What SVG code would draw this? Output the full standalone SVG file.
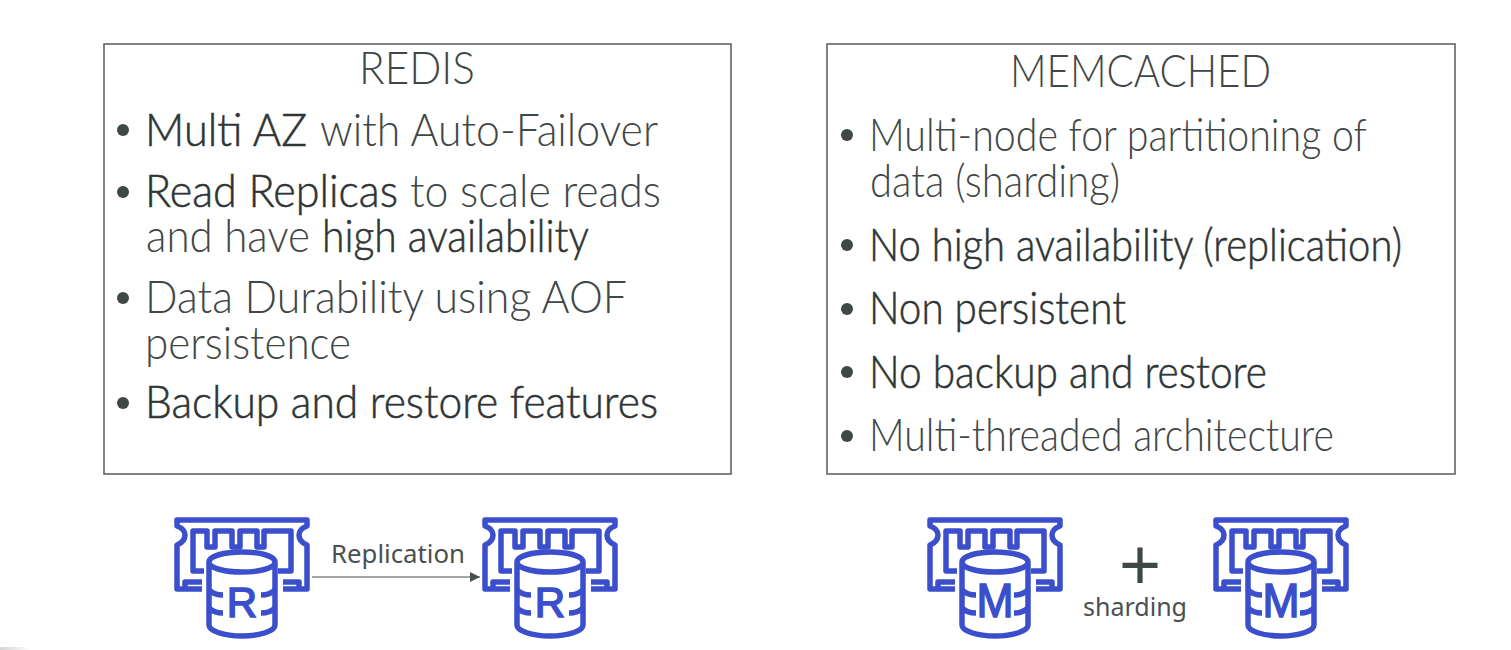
<svg xmlns="http://www.w3.org/2000/svg" width="1511" height="650" viewBox="0 0 1511 650">
<style>
.box{fill:#fff;stroke:#555b5b;stroke-width:1.5}
text{font-family:"Lato","Liberation Sans",sans-serif}
.t{font-size:45px;font-weight:300;fill:#3f4747}
.h{font-size:45px;font-weight:300;fill:#2f3535;stroke:#2f3535;stroke-width:.55}
.b{fill:#3f4747}
.lb{font-family:"Noto Sans","Open Sans",sans-serif;font-size:25px;fill:#4a5050}
.ic{fill:none;stroke:#3b4ecb;stroke-width:5.5;stroke-linejoin:round;stroke-linecap:butt}
.db{fill:#fff}
.l{font-family:"Liberation Sans",sans-serif;fill:#3b4ecb;stroke:#3b4ecb;stroke-width:1.6;text-anchor:middle}
</style>
<defs>
<linearGradient id="sh" x1="0" x2="1" y1="0" y2="0"><stop offset="0" stop-color="#d4d4d4"/><stop offset="1" stop-color="#ffffff"/></linearGradient>
<marker id="arr" markerUnits="userSpaceOnUse" markerWidth="12" markerHeight="12" refX="10" refY="5" orient="auto"><path d="M0,0L10,5L0,10Z" fill="#4a5050"/></marker>
<g id="chip">
<path class="ic" d="M28,72H11V65H28M109,65H125V72H109M28,72H3V28C8,26 11,22 11,18C11,14 8,11 3,9V3H133V9C128,11 125,14 125,18C125,22 128,26 133,28V72H109"/>
<path class="ic" d="M30,54H19V14H33V30H41V14H58V30H66V14H83V30H90V14H117V54H104"/>
<path class="ic db" d="M35,45V108C35,114 50,119 68,119C86,119 101,114 101,108V45C101,39 86,35 68,35C50,35 35,39 35,45C35,51 50,55 68,55C86,55 101,51 101,45"/>
<path class="ic" d="M35,73C38,76 43,78 49,78M35,91C38,94 43,96 49,96M101,73C98,76 93,78 87,78M101,91C98,94 93,96 87,96"/>
</g>
</defs>
<rect x="0" y="647" width="30" height="3" fill="url(#sh)"/>
<g id="redis-box">
<rect class="box" x="104" y="44" width="627" height="430"/>
<text class="t" x="359" y="84" textLength="116" lengthAdjust="spacingAndGlyphs">REDIS</text>
<circle class="b" cx="123" cy="130" r="6"/><circle class="b" cx="123" cy="192" r="6"/><circle class="b" cx="123" cy="298" r="6"/><circle class="b" cx="123" cy="403" r="6"/>
<text class="h" x="145" y="146" textLength="162" lengthAdjust="spacingAndGlyphs">Multi AZ</text>
<text class="t" x="320" y="146" textLength="338" lengthAdjust="spacingAndGlyphs">with Auto-Failover</text>
<text class="h" x="145" y="207" textLength="253" lengthAdjust="spacingAndGlyphs">Read Replicas</text>
<text class="t" x="410" y="207" textLength="251" lengthAdjust="spacingAndGlyphs">to scale reads</text>
<text class="t" x="146" y="252" textLength="164" lengthAdjust="spacingAndGlyphs">and have</text>
<text class="h" x="322" y="252" textLength="267" lengthAdjust="spacingAndGlyphs">high availability</text>
<text class="t" x="145" y="313" textLength="482" lengthAdjust="spacingAndGlyphs">Data Durability using AOF</text>
<text class="t" x="145" y="359" textLength="206" lengthAdjust="spacingAndGlyphs">persistence</text>
<text class="h" x="145" y="418" textLength="513" lengthAdjust="spacingAndGlyphs">Backup and restore features</text>
</g>
<g id="memcached-box">
<rect class="box" x="827" y="44" width="628" height="430"/>
<text class="t" x="1010" y="87" textLength="261" lengthAdjust="spacingAndGlyphs">MEMCACHED</text>
<circle class="b" cx="847" cy="135" r="6"/><circle class="b" cx="847" cy="245" r="6"/><circle class="b" cx="847" cy="309" r="6"/><circle class="b" cx="847" cy="372" r="6"/><circle class="b" cx="847" cy="436" r="6"/>
<text class="t" x="869" y="151" textLength="498" lengthAdjust="spacingAndGlyphs">Multi-node for partitioning of</text>
<text class="t" x="870" y="197" textLength="250" lengthAdjust="spacingAndGlyphs">data (sharding)</text>
<text class="h" x="869" y="261" textLength="533" lengthAdjust="spacingAndGlyphs">No high availability (replication)</text>
<text class="h" x="869" y="324" textLength="257" lengthAdjust="spacingAndGlyphs">Non persistent</text>
<text class="h" x="869" y="388" textLength="398" lengthAdjust="spacingAndGlyphs">No backup and restore</text>
<text class="t" x="869" y="451" textLength="465" lengthAdjust="spacingAndGlyphs">Multi-threaded architecture</text>
</g>
<g id="redis-1" transform="translate(174,517)"><use href="#chip"/><text class="l" x="68" y="100" font-size="42">R</text></g>
<g id="redis-2" transform="translate(482,517)"><use href="#chip"/><text class="l" x="68" y="100" font-size="42">R</text></g>
<g id="memcached-1" transform="translate(927,517)"><use href="#chip"/><text class="l" x="68" y="100" font-size="48" textLength="37" lengthAdjust="spacingAndGlyphs">M</text></g>
<g id="memcached-2" transform="translate(1213,517)"><use href="#chip"/><text class="l" x="68" y="100" font-size="48" textLength="37" lengthAdjust="spacingAndGlyphs">M</text></g>
<g id="connectors">
<line x1="312" y1="577" x2="480" y2="577" stroke="#4a5050" stroke-width="1.2" marker-end="url(#arr)"/>
</g>
<text class="lb" x="331" y="563" textLength="134" lengthAdjust="spacingAndGlyphs">Replication</text>
<text x="1140" y="589" font-size="72" text-anchor="middle" fill="#3f4747" style="font-family:'Liberation Sans',sans-serif">+</text>
<text class="lb" x="1083" y="616" textLength="104" lengthAdjust="spacingAndGlyphs">sharding</text>
</svg>
